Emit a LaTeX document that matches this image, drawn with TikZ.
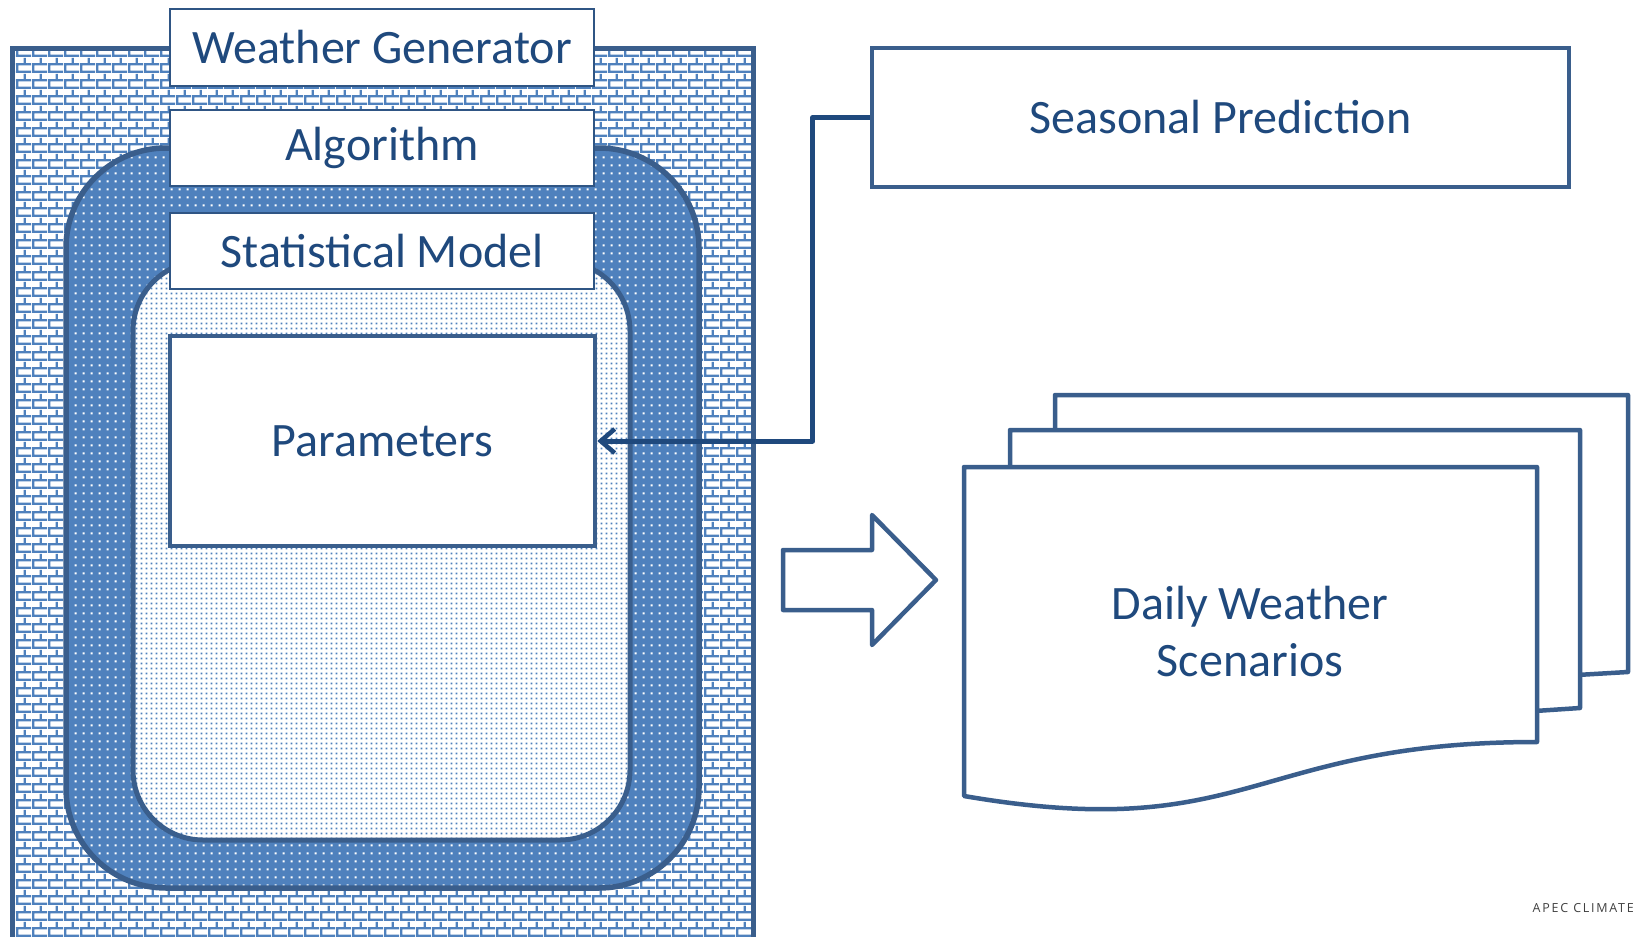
\documentclass[tikz,border=0pt]{standalone}
\usepackage{fontspec}
\setmainfont{Carlito}
\newfontfamily\apecfont[LetterSpace=14]{Open Sans}
\usetikzlibrary{patterns,arrows.meta}
\definecolor{txt}{HTML}{1F497D}
\definecolor{edge}{HTML}{3A5E8C}
\definecolor{fillb}{HTML}{4F81BD}
\definecolor{lbledge}{HTML}{2F5584}
\definecolor{conncol}{HTML}{1F497D}

\pgfdeclarepatternformonly{mybricks}{\pgfpointorigin}{\pgfpoint{16pt}{16pt}}{\pgfpoint{16pt}{16pt}}{%
  \pgfpathrectangle{\pgfpoint{0pt}{0pt}}{\pgfpoint{16pt}{2.6pt}}%
  \pgfpathrectangle{\pgfpoint{0pt}{8pt}}{\pgfpoint{16pt}{2.6pt}}%
  \pgfpathrectangle{\pgfpoint{0pt}{2.6pt}}{\pgfpoint{2.6pt}{5.4pt}}%
  \pgfpathrectangle{\pgfpoint{8pt}{10.6pt}}{\pgfpoint{2.6pt}{5.4pt}}%
  \pgfusepath{fill}}
\pgfdeclarepatternformonly{middots}{\pgfpointorigin}{\pgfpoint{8pt}{8pt}}{\pgfpoint{8pt}{8pt}}{%
  \pgfpathrectangle{\pgfpoint{3pt}{3pt}}{\pgfpoint{2.2pt}{2.2pt}}%
  \pgfusepath{fill}}
\pgfdeclarepatternformonly{innerdots}{\pgfpointorigin}{\pgfpoint{5.4pt}{5.4pt}}{\pgfpoint{5.4pt}{5.4pt}}{%
  \pgfpathrectangle{\pgfpoint{1.7pt}{1.7pt}}{\pgfpoint{2pt}{2pt}}%
  \pgfusepath{fill}}

\tikzset{
  lbl/.style={draw=lbledge, line width=2pt, fill=white, text=txt, inner sep=0pt,
    font=\fontsize{48}{57}\selectfont, align=center},
  thickbox/.style={draw=edge, line width=4.5pt, fill=white, text=txt, inner sep=0pt,
    font=\fontsize{48}{57}\selectfont, align=center},
  docline/.style={draw=edge, line width=4.5pt, fill=white, line join=round},
  conn/.style={draw=conncol, line width=5pt, line join=round,
    -{Straight Barb[length=14pt,width=24pt,line width=4.5pt]}},
}

\begin{document}
\begin{tikzpicture}[x=1pt,y=-1pt]
\useasboundingbox (0,0) rectangle (1636,937);
\clip (0,0) rectangle (1636,937);

% outer brick frame
\fill[white] (12,48) rectangle (753,950);
\fill[pattern=mybricks, pattern color=fillb] (12,48) rectangle (753,950);
\draw[edge, line width=5pt, line join=miter] (12,950) -- (12,48) -- (753,48) -- (753,950);

% middle rounded rectangle (dark dotted)
\path[preaction={fill=fillb}, pattern=middots, pattern color=white, rounded corners=100pt]
  (66,148) rectangle (699,888);
\draw[edge, line width=5.5pt, rounded corners=100pt] (66,148) rectangle (699,888);

% inner rounded rectangle (light dotted)
\path[preaction={fill=white}, pattern=innerdots, pattern color=fillb, rounded corners=70pt]
  (133,261) rectangle (630,840);
\draw[edge, line width=5pt, rounded corners=70pt] (133,261) rectangle (630,840);

% label boxes
\node[lbl, minimum width=424pt, minimum height=77pt] (wg) at (382,47.5) {Weather Generator};
\node[lbl, minimum width=424pt, minimum height=76pt] (alg) at (382,148) {Algorithm};
\node[lbl, minimum width=424pt, minimum height=76pt] (stat) at (382,251) {Statistical Model};
\node[thickbox, minimum width=425pt, minimum height=210pt] (params) at (382.5,441) {Parameters};

% seasonal prediction
\node[thickbox, minimum width=697pt, minimum height=139pt] (season) at (1220.5,117.5) {Seasonal Prediction};

% connector
\draw[conn] (season.west) -- ++(-57,0) |- (params.east);

% block arrow
\draw[docline] (783,550) -- (872,550) -- (872,515) -- (936,580) -- (872,645)
  -- (872,610) -- (783,610) -- cycle;

% document stack
\draw[docline] (1055,395) -- (1628,395) -- (1628,672) -- (1560,676) -- (1560,520) -- (1055,520) -- cycle;
\draw[docline] (1010,430) -- (1580,430) -- (1580,708) -- (1520,712) -- (1520,560) -- (1010,560) -- cycle;
\draw[docline] (964,467) -- (1537,467) -- (1537,742) .. controls (1250,742) and (1250,845) .. (964,796) -- cycle;
\node[text=txt, font=\fontsize{48}{57}\selectfont, align=center] (daily) at (1250,632) {Daily Weather\\Scenarios};

% footer
\node[anchor=east, text=black!75, font=\apecfont\fontsize{12.5}{14}\selectfont, inner sep=0pt] (apec) at (1634,908) {APEC CLIMATE};
\end{tikzpicture}
\end{document}
